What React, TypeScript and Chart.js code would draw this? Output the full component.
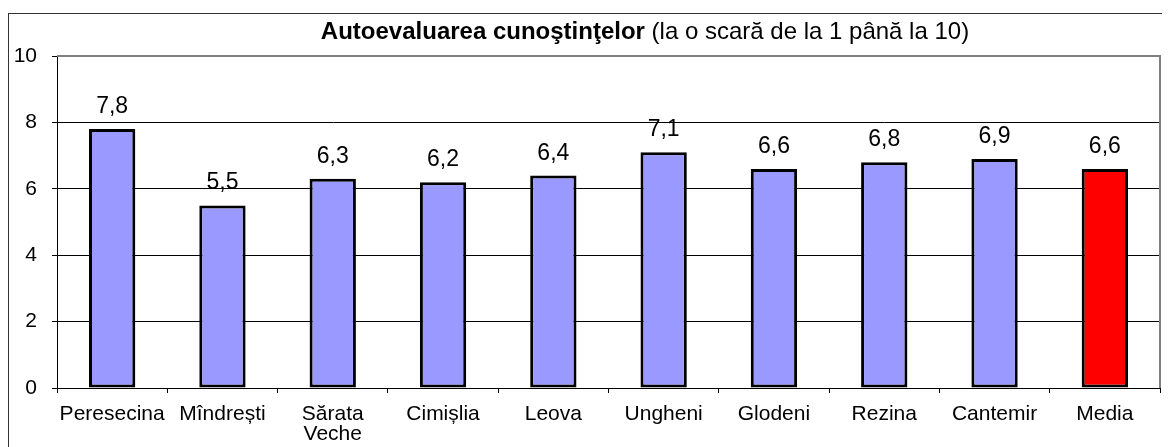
import React, { useEffect, useRef } from "react";
import { Chart, registerables } from "chart.js";

Chart.register(...registerables);

const categories: (string | string[])[] = [
  "Peresecina",
  "Mîndrești",
  ["Sărata", "Veche"],
  "Cimișlia",
  "Leova",
  "Ungheni",
  "Glodeni",
  "Rezina",
  "Cantemir",
  "Media",
];
const values: number[] = [7.8, 5.5, 6.3, 6.2, 6.4, 7.1, 6.6, 6.8, 6.9, 6.6];
const barColors: string[] = [
  "#9999FF", "#9999FF", "#9999FF", "#9999FF", "#9999FF",
  "#9999FF", "#9999FF", "#9999FF", "#9999FF", "#FF0000",
];
const titleBold = "Autoevaluarea cunoştinţelor";
const titleNormal = " (la o scară de la 1 până la 10)";
const yMin = 0;
const yMax = 10;
const yStep = 2;

const FONT = "'Liberation Sans', Arial, sans-serif";

const framePlugin = {
  id: "frame",
  beforeDatasetsDraw(chart: any) {
    const { ctx, chartArea } = chart;
    ctx.save();
    ctx.strokeStyle = "#808080";
    ctx.lineWidth = 2;
    ctx.beginPath();
    ctx.moveTo(chartArea.left, chartArea.top);
    ctx.lineTo(chartArea.right, chartArea.top);
    ctx.lineTo(chartArea.right, chartArea.bottom);
    ctx.stroke();
    ctx.restore();
  },
};

const titlePlugin = {
  id: "mixedTitle",
  afterDraw(chart: any) {
    const { ctx } = chart;
    ctx.save();
    ctx.fillStyle = "#000";
    ctx.textBaseline = "alphabetic";
    ctx.font = `bold 24px ${FONT}`;
    const w1 = ctx.measureText(titleBold).width;
    ctx.font = `24px ${FONT}`;
    const w2 = ctx.measureText(titleNormal).width;
    const cx = 636;
    const x0 = cx - (w1 + w2) / 2;
    ctx.textAlign = "left";
    ctx.font = `bold 24px ${FONT}`;
    ctx.fillText(titleBold, x0, 25);
    ctx.font = `24px ${FONT}`;
    ctx.fillText(titleNormal, x0 + w1, 25);
    ctx.restore();
  },
};

const valueLabelPlugin = {
  id: "valueLabels",
  afterDatasetsDraw(chart: any) {
    const { ctx } = chart;
    const meta = chart.getDatasetMeta(0);
    ctx.save();
    ctx.fillStyle = "#000";
    ctx.font = `23px ${FONT}`;
    ctx.textAlign = "center";
    ctx.textBaseline = "alphabetic";
    meta.data.forEach((bar: any, i: number) => {
      const v = values[i];
      ctx.fillText(v.toFixed(1).replace(".", ","), bar.x, bar.y - 16);
    });
    ctx.restore();
  },
};

export default function App() {
  const ref = useRef<HTMLCanvasElement | null>(null);

  useEffect(() => {
    if (!ref.current) return;
    const chart = new Chart(ref.current, {
      type: "bar",
      data: {
        labels: categories,
        datasets: [
          {
            data: values,
            backgroundColor: barColors,
            borderColor: "#000",
            borderWidth: 3,
            borderSkipped: false,
            barPercentage: 0.42,
            categoryPercentage: 1,
          },
        ],
      },
      options: {
        responsive: false,
        animation: false,
        layout: { padding: { top: 42, right: 9, left: 0, bottom: 0 } },
        plugins: {
          legend: { display: false },
          title: { display: false },
          tooltip: { enabled: false },
        },
        scales: {
          x: {
            grid: {
              display: true,
              drawOnChartArea: false,
              offset: true,
              tickLength: 5,
              color: "#000",
              tickColor: "#000",
            },
            border: { display: true, color: "#000", width: 1 },
            ticks: {
              color: "#000",
              padding: 11,
              maxRotation: 0,
              autoSkip: false,
              font: { family: FONT, size: 21, lineHeight: "20px" },
            },
            afterFit(scale: any) {
              scale.height = 56;
            },
          },
          y: {
            min: yMin,
            max: yMax,
            ticks: {
              stepSize: yStep,
              color: "#000",
              padding: 15,
              font: { family: FONT, size: 21 },
            },
            grid: {
              tickLength: 5,
              tickColor: "#000",
              color: (c: any) => (c.tick && c.tick.value === yMax ? "rgba(0,0,0,0)" : "#000"),
              lineWidth: 1,
            },
            border: { display: true, color: "#000", width: 1 },
            afterFit(scale: any) {
              scale.width = 48;
            },
          },
        },
      },
      plugins: [framePlugin, titlePlugin, valueLabelPlugin],
    });
    return () => chart.destroy();
  }, []);

  return (
    <div
      style={{
        position: "relative",
        top: 5,
        width: 1200,
        height: 450,
        borderLeft: "1px solid #333",
        borderTop: "1px solid #333",
        background: "#fff",
      }}
    >
      <canvas ref={ref} width={1160} height={430} style={{ display: "block" }} />
    </div>
  );
}
